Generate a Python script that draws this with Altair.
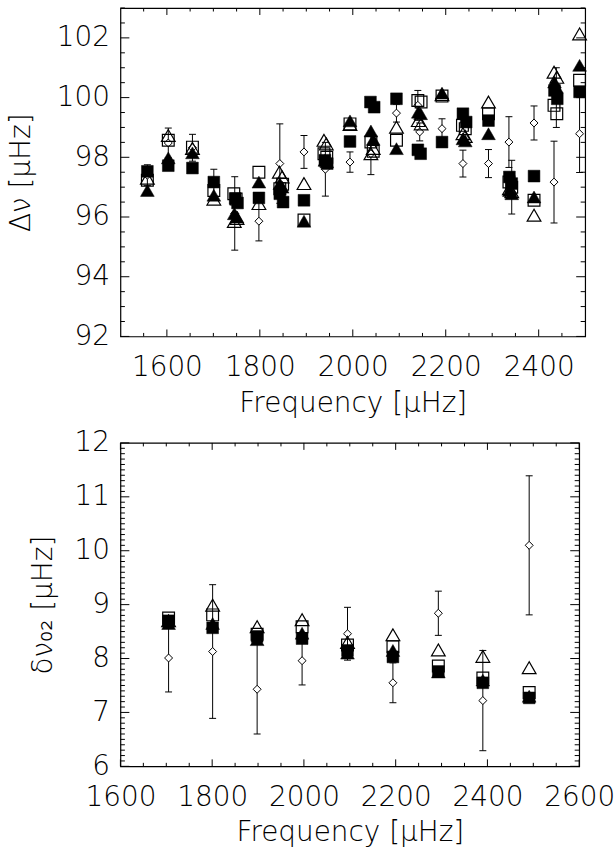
import altair as alt
import pandas as pd
import numpy as np

FONT = "DejaVu Sans"

# ---------------- top panel: large separation ----------------
t_os_f = [1558, 1603, 1655, 1701, 1744, 1749, 1798, 1843, 1849, 1895, 1938, 1944, 1994, 2039, 2044,
          2094, 2140, 2147, 2192, 2236, 2242, 2292, 2336, 2342, 2390, 2433, 2439, 2488]
t_os_v = [97.23, 98.57, 98.34, 96.89, 96.78, 96.6, 97.5, 96.95, 97.1, 95.9, 98.12, 98.0, 99.12, 98.51, 98.2,
          98.57, 99.9, 99.85, 100.05, 99.07, 98.96, 99.46, 97.17, 97.0, 96.56, 99.74, 99.46, 100.58]

t_fs_f = [1558, 1603, 1655, 1701, 1747, 1752, 1798, 1843, 1850, 1895, 1940, 1945, 1994, 2038, 2046,
          2094, 2140, 2146, 2192, 2237, 2244, 2292, 2337, 2342, 2390, 2434, 2440, 2488]
t_fs_v = [97.53, 97.72, 97.64, 97.17, 96.62, 96.47, 96.64, 96.78, 96.5, 96.56, 97.9, 97.79, 98.53, 99.85, 99.68,
          99.96, 98.25, 98.12, 98.51, 99.46, 99.18, 99.23, 97.34, 97.12, 97.37, 100.24, 99.96, 100.19]

t_ot_f = [1558, 1603, 1655, 1701, 1745, 1751, 1798, 1842, 1848, 1895, 1938, 1943, 1994, 2039, 2044,
          2094, 2141, 2147, 2192, 2237, 2242, 2292, 2337, 2342, 2390, 2433, 2439, 2488]
t_ot_v = [97.3, 98.73, 98.3, 96.6, 95.85, 95.95, 96.45, 97.5, 97.34, 97.12, 98.57, 98.45, 99.1, 98.12, 98.3,
          99.01, 99.23, 99.12, 100.1, 98.79, 98.7, 99.85, 96.95, 96.85, 96.06, 100.85, 100.68, 102.13]

t_ft_f = [1558, 1603, 1655, 1701, 1745, 1751, 1798, 1843, 1848, 1895, 1940, 1944, 1994, 2039, 2044,
          2094, 2141, 2146, 2192, 2237, 2242, 2292, 2337, 2342, 2390, 2434, 2438, 2488]
t_ft_v = [96.89, 97.98, 98.15, 96.73, 96.11, 96.0, 97.17, 97.12, 97.0, 95.86, 97.9, 97.85, 99.22, 98.88, 98.6,
          98.29, 99.51, 99.46, 100.15, 98.62, 98.55, 98.79, 96.89, 96.78, 96.67, 100.52, 100.35, 101.08]

t_obs_f = [1558, 1603, 1655, 1701, 1746, 1798, 1843, 1895, 1941, 1994, 2039, 2094, 2140, 2144, 2192,
           2237, 2292, 2336, 2342, 2390, 2433, 2438, 2488]
t_obs_v = [97.4, 98.48, 98.32, 97.1, 96.12, 95.86, 97.79, 98.18, 97.6, 97.84, 98.12, 99.48, 99.74, 98.85, 98.96,
           97.79, 97.79, 98.51, 97.0, 99.15, 97.17, 100.0, 98.79]
t_obs_e = [0.35, 0.5, 0.45, 0.5, 1.23, 0.66, 1.33, 0.55, 0.9, 0.34, 0.7, 0.3, 0.5, 0.3, 0.33,
           0.45, 0.47, 0.85, 0.9, 0.57, 1.37, 1.0, 1.3]

# ---------------- bottom panel: small separation ----------------
b_f = [1705, 1801, 1898, 1996, 2095, 2194, 2293, 2390, 2491]
b_os_v = [8.75, 8.81, 8.45, 8.59, 8.25, 8.22, 7.86, 7.64, 7.37]
b_fs_v = [8.70, 8.57, 8.41, 8.37, 8.15, 8.03, 7.76, 7.55, 7.27]
b_ot_v = [8.70, 8.99, 8.59, 8.72, 8.30, 8.44, 8.16, 8.04, 7.83]
b_ft_v = [8.65, 8.65, 8.35, 8.47, 8.10, 8.15, 7.75, 7.60, 7.30]
b_obs_v = [8.01, 8.13, 7.43, 7.96, 8.46, 7.55, 8.84, 7.22, 10.10]
b_obs_e = [0.63, 1.24, 0.83, 0.45, 0.49, 0.37, 0.41, 0.93, 1.29]

# axis tick values
top_x_labels = [1600, 1800, 2000, 2200, 2400]
top_y_labels = [92, 94, 96, 98, 100, 102]
bot_x_labels = [1600, 1800, 2000, 2200, 2400, 2600]
bot_y_labels = [6, 7, 8, 9, 10, 11, 12]

SQ, TRI, DIA = 140, 190, 64


def panel(W, H, xdom, ydom, xlabels, ylabels, xminor, yminor, ytitle, ytp,
          series, obs, ymajlen=9, xmajlen=7):
    xscale = alt.Scale(domain=xdom, nice=False, zero=False)
    yscale = alt.Scale(domain=ydom, nice=False, zero=False)
    xaxis = alt.Axis(values=xlabels, title='Frequency [μHz]', format='d',
                     labelPadding=17, titlePadding=8)
    yaxis = alt.Axis(values=ylabels, title=ytitle, format='d',
                     labelPadding=11, titlePadding=ytp)
    X = alt.X('f:Q', scale=xscale, axis=xaxis)

    def Yf(field):
        return alt.Y(field + ':Q', scale=yscale, axis=yaxis)

    Y = Yf('v')
    layers = []
    # error bars and observed values
    of, ov, oe = obs
    d = pd.DataFrame({'f': of, 'v': ov, 'lo': np.array(ov) - np.array(oe), 'hi': np.array(ov) + np.array(oe)})
    base = alt.Chart(d)
    layers.append(base.mark_rule(color='black', strokeWidth=1).encode(x=X, y=Yf('lo'), y2='hi:Q'))
    cap = dict(orient='horizontal', size=7, thickness=1, color='black', opacity=1)
    layers.append(base.mark_tick(**cap).encode(x=X, y=Yf('lo')))
    layers.append(base.mark_tick(**cap).encode(x=X, y=Yf('hi')))
    layers.append(base.mark_point(shape='diamond', filled=True, fill='white', stroke='black',
                                  strokeWidth=1, size=DIA, opacity=1).encode(x=X, y=Y))
    for f, v, shape, filled, size in series:
        d = pd.DataFrame({'f': f, 'v': v})
        if filled:
            m = alt.Chart(d).mark_point(shape=shape, filled=True, fill='black', stroke='black',
                                        strokeWidth=0.5, size=size, opacity=1)
        else:
            m = alt.Chart(d).mark_point(shape=shape, filled=False, stroke='black',
                                        strokeWidth=1.2, size=size, opacity=1)
        layers.append(m.encode(x=X, y=Y))
    # inward ticks on all four sides
    for vals, L in ((xlabels, xmajlen), (xminor, xmajlen / 2)):
        b = alt.Chart(pd.DataFrame({'f': vals})).mark_rule(color='black', strokeWidth=1)
        layers.append(b.encode(x=X, y=alt.value(H), y2=alt.value(H - L)))
        layers.append(b.encode(x=X, y=alt.value(0), y2=alt.value(L)))
    for vals, L in ((ylabels, ymajlen), (yminor, ymajlen / 2)):
        b = alt.Chart(pd.DataFrame({'v': vals})).mark_rule(color='black', strokeWidth=1)
        layers.append(b.encode(y=Y, x=alt.value(0), x2=alt.value(L)))
        layers.append(b.encode(y=Y, x=alt.value(W), x2=alt.value(W - L)))
    return alt.layer(*layers).properties(width=W, height=H)


top_xminor = [f for f in range(1550, 2500, 50) if f % 200 != 0]
top_yminor = [round(float(v), 2) for v in np.arange(92.5, 103.01, 0.5) if abs(v % 2) > 1e-6]
bot_xminor = [f for f in range(1650, 2600, 50) if f % 200 != 0]
bot_yminor = [round(float(v), 2) for v in np.arange(6.1, 12.0, 0.1) if abs(v - round(v)) > 1e-6]

top = panel(467, 330, [1500, 2500], [92, 103], top_x_labels, top_y_labels, top_xminor, top_yminor,
            'Δν [μHz]', 21,
            [(t_os_f, t_os_v, 'square', False, SQ),
             (t_fs_f, t_fs_v, 'square', True, SQ),
             (t_ot_f, t_ot_v, 'triangle-up', False, TRI),
             (t_ft_f, t_ft_v, 'triangle-up', True, TRI)],
            (t_obs_f, t_obs_v, t_obs_e))

bottom = panel(461, 325, [1600, 2600], [6, 12], bot_x_labels, bot_y_labels, bot_xminor, bot_yminor,
               'δν₀₂ [μHz]', 17,
               [(b_f, b_os_v, 'square', False, SQ),
                (b_f, b_fs_v, 'square', True, SQ),
                (b_f, b_ot_v, 'triangle-up', False, TRI),
                (b_f, b_ft_v, 'triangle-up', True, TRI)],
               (b_f, b_obs_v, b_obs_e))

chart = alt.vconcat(top, bottom, spacing=10).properties(
    padding={'left': 6, 'top': 4, 'right': 0, 'bottom': 0}, background='white'
).configure_view(stroke='black', strokeWidth=1.2).configure_axis(
    labelFont=FONT, titleFont=FONT, labelFontSize=28, titleFontSize=28,
    labelFontWeight=200, titleFontWeight=200, labelColor='black', titleColor='black',
    ticks=False, domain=False, grid=False, labelOverlap=False, labelFlush=False
)

chart.save('out.html', embed_options={'renderer': 'svg', 'actions': False})
